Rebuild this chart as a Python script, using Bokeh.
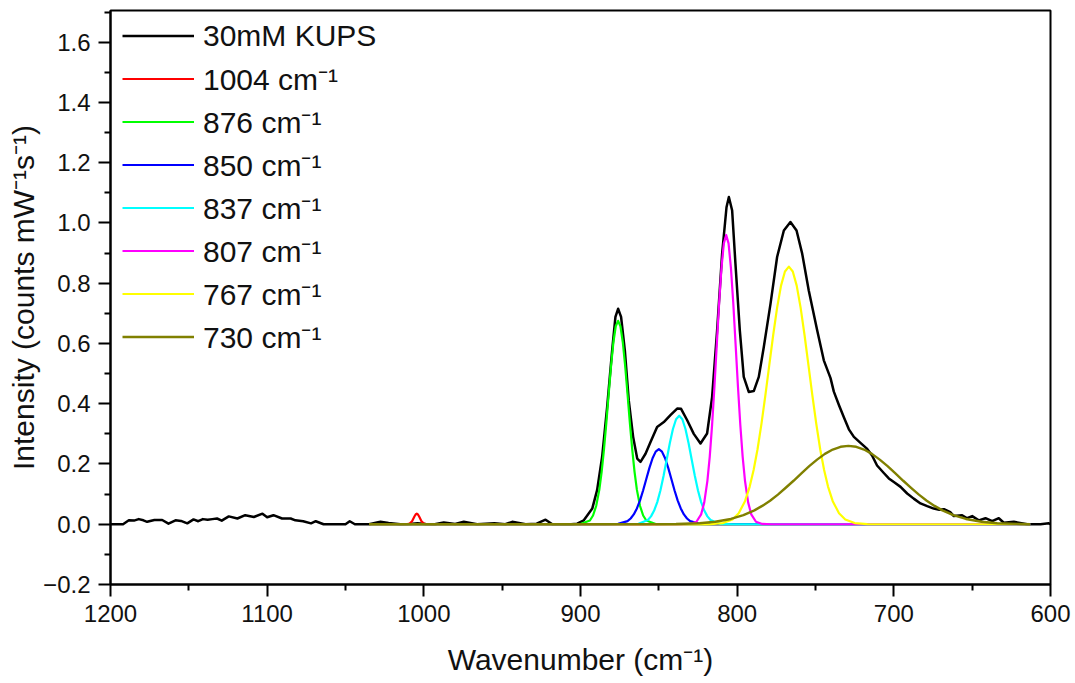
from bokeh.plotting import figure
from bokeh.models import Range1d, FixedTicker, CustomJSTickFormatter, Legend, LegendItem
from bokeh.embed import file_html
from bokeh.resources import INLINE

# ---------------- data ----------------
x_ticks = [1200, 1100, 1000, 900, 800, 700, 600]
x_minor = [1150, 1050, 950, 850, 750, 650]
y_ticks = [-0.2, 0.0, 0.2, 0.4, 0.6, 0.8, 1.0, 1.2, 1.4, 1.6]
y_minor = [-0.1, 0.1, 0.3, 0.5, 0.7, 0.9, 1.1, 1.3, 1.5, 1.7]

series_labels = ["30mM KUPS", "1004 cm\u207b\u00b9", "876 cm\u207b\u00b9", "850 cm\u207b\u00b9",
                 "837 cm\u207b\u00b9", "807 cm\u207b\u00b9", "767 cm\u207b\u00b9", "730 cm\u207b\u00b9"]

kups_wn = [1200, 1195, 1192, 1188.3, 1185, 1182, 1179, 1176.6, 1172, 1167, 1163, 1158.5, 1155, 1151,
           1147, 1144, 1141, 1138, 1135, 1132, 1129, 1124.5, 1119, 1114, 1108.5, 1103, 1100, 1096,
           1090.5, 1085, 1082, 1077, 1072, 1069, 1064, 1053, 1050, 1047.3, 1044, 1035, 1027.7, 1022.5,
           1015, 1009, 1004, 999, 993, 987.3, 980, 974.5, 966, 955, 948, 943.6, 935, 928, 922.3, 918,
           906, 902.1, 897.9, 892.5, 889.4, 886.2, 883, 879.8, 877.7, 876, 874.1, 871.7, 869.2, 866.4,
           863.8, 861.7, 858.5, 855.3, 851.1, 846.8, 842.6, 838.3, 835.8, 831.9, 827.7, 823.4, 819.2,
           816, 812.8, 809.6, 806.8, 805.3, 803.2, 801.1, 798.3, 795.8, 792.6, 789.4, 786.2, 783,
           778.7, 774.5, 770.2, 766, 762.1, 758.5, 754.3, 748.9, 744.7, 740.4, 738.3, 735, 731.9,
           728.7, 725.5, 721.3, 717, 713.9, 710.7, 706.4, 703.2, 700, 695.7, 691.5, 687.3, 683, 678.7,
           674.5, 671, 668, 664, 661.7, 656.4, 653.2, 650, 645.8, 641.5, 637.2, 633, 629.8, 623.4,
           614.9, 606.4, 601.1, 600]
kups_int = [0.0, 0.0, 0.0, 0.013, 0.012, 0.017, 0.013, 0.008, 0.014, 0.014, 0.002, 0.013, 0.011, 0.003,
            0.016, 0.010, 0.017, 0.015, 0.017, 0.019, 0.012, 0.026, 0.019, 0.030, 0.024, 0.035, 0.023, 0.030,
            0.019, 0.019, 0.013, 0.010, 0.003, 0.010, 0.0, 0.0, 0.0, 0.010, 0.0, 0.0, 0.008, 0.004,
            0.0, 0.001, 0.003, 0.001, 0.0, 0.006, 0.001, 0.008, 0.0, 0.003, 0.0, 0.008, 0.0, 0.002, 0.015, 0.0,
            0.0, 0.002, 0.013, 0.052, 0.113, 0.223, 0.389, 0.577, 0.688, 0.715, 0.688, 0.577, 0.411, 0.290,
            0.218, 0.207, 0.234, 0.273, 0.323, 0.339, 0.362, 0.384, 0.383, 0.345, 0.300, 0.268, 0.301,
            0.422, 0.643, 0.898, 1.052, 1.086, 1.041, 0.865, 0.643, 0.489, 0.439, 0.442, 0.489, 0.588,
            0.732, 0.887, 0.975, 1.003, 0.975, 0.898, 0.776, 0.643, 0.544, 0.485, 0.440, 0.395, 0.355,
            0.315, 0.290, 0.270, 0.250, 0.228, 0.195, 0.170, 0.152, 0.140, 0.124, 0.102, 0.085, 0.069, 0.060,
            0.052, 0.048, 0.050, 0.040, 0.027, 0.030, 0.020, 0.027, 0.013, 0.020, 0.010, 0.020, 0.005, 0.008,
            0.0, 0.0, 0.003, 0.0]

p1004_wn = [1035, 1010.5, 1009, 1007.5, 1006, 1005.25, 1004.5, 1003.75, 1003, 1001.5, 1000, 998.5, 613]
p1004_int = [0.0, 0.0002, 0.0022, 0.0102, 0.0257, 0.0324, 0.035, 0.0324, 0.0257, 0.0102, 0.0022, 0.0002, 0.0]

p876_wn = [1035, 906, 900, 894, 892, 890, 888, 886.5, 885, 883.5, 882, 880.5, 879, 877.5, 876,
           874.5, 873, 871.5, 870, 868.5, 867, 865.5, 864, 862, 860, 858, 852, 846, 613]
p876_int = [0.0, 0.0, 0.0006, 0.0125, 0.029, 0.0605, 0.114, 0.174, 0.249, 0.3375, 0.433, 0.526, 0.604,
            0.657, 0.675, 0.657, 0.604, 0.526, 0.433, 0.3375, 0.249, 0.174, 0.114, 0.0605, 0.029, 0.0125,
            0.0006, 0.0, 0.0]

p850_wn = [1035, 884, 876, 870, 868, 866, 864, 862, 860, 858, 856, 854, 852, 850, 848, 846, 844, 842,
           840, 838, 836, 834, 832, 830, 824, 816, 613]
p850_int = [0.0, 0.0, 0.0012, 0.0104, 0.0191, 0.0326, 0.0526, 0.0794, 0.1127, 0.150, 0.187, 0.219, 0.241,
            0.249, 0.241, 0.219, 0.187, 0.150, 0.1127, 0.0794, 0.0526, 0.0326, 0.0191, 0.0104, 0.0012, 0.0, 0.0]

p837_wn = [1035, 871, 863, 857, 855, 853, 851, 849, 847, 845, 843, 841, 839, 837, 835, 833, 831, 829,
           827, 825, 823, 821, 819, 817, 811, 803, 613]
p837_int = [0.0, 0.0, 0.0015, 0.014, 0.0261, 0.0454, 0.0734, 0.112, 0.160, 0.214, 0.269, 0.316, 0.3485,
            0.36, 0.3485, 0.316, 0.269, 0.214, 0.160, 0.112, 0.0734, 0.0454, 0.0261, 0.014, 0.0015, 0.0, 0.0]

p807_wn = [1035, 836, 830, 826, 823, 821, 819, 817.5, 816, 814.5, 813, 811.5, 810, 808.5, 807, 805.5,
           804, 802.5, 801, 799.5, 798, 796.5, 795, 793, 791, 788, 784, 778, 613]
p807_int = [0.0, 0.0, 0.0009, 0.0083, 0.0328, 0.0725, 0.144, 0.2246, 0.330, 0.457, 0.597, 0.735, 0.852,
            0.932, 0.96, 0.932, 0.852, 0.735, 0.597, 0.457, 0.330, 0.2246, 0.144, 0.0725, 0.0328, 0.0083,
            0.0009, 0.0, 0.0]

p767_wn = [1035, 825, 817, 809, 803, 799, 795, 792, 789.5, 787, 784.5, 782, 779.5, 777, 774.5, 772,
           769.5, 767, 764.5, 762, 759.5, 757, 754.5, 752, 749.5, 747, 744.5, 742, 739, 735, 731, 725,
           717, 709, 613]
p767_int = [0.0, 0.0, 0.0004, 0.0038, 0.0158, 0.0366, 0.0766, 0.125, 0.180, 0.249, 0.333, 0.4275, 0.528,
            0.628, 0.719, 0.792, 0.839, 0.855, 0.839, 0.792, 0.719, 0.628, 0.528, 0.4275, 0.333, 0.249,
            0.180, 0.125, 0.0766, 0.0366, 0.0158, 0.0038, 0.0004, 0.0, 0.0]

p730_wn = [1035, 860, 839, 824, 814, 804, 796, 789, 784, 779, 774, 769, 764, 759, 754, 749, 744, 739,
           734, 729, 724, 719, 714, 709, 704, 699, 694, 689, 684, 679, 674, 669, 662, 654, 644, 634, 619, 613]
p730_int = [0.0, 0.0, 0.0008, 0.0034, 0.0081, 0.0175, 0.0302, 0.046, 0.0608, 0.078, 0.0983, 0.121, 0.1443,
            0.169, 0.1927, 0.2145, 0.2335, 0.248, 0.257, 0.26, 0.257, 0.248, 0.2335, 0.2145, 0.1927, 0.169,
            0.1443, 0.121, 0.0983, 0.078, 0.0608, 0.046, 0.0302, 0.0175, 0.0081, 0.0034, 0.0008, 0.0]

# ---------------- figure ----------------
FONT = "Liberation Sans"

p = figure(width=1075, height=683, output_backend="svg", toolbar_location=None,
           x_range=Range1d(1200, 600), y_range=Range1d(-0.2, 1.705),
           min_border_left=110, min_border_right=25, min_border_top=10, min_border_bottom=99,
           background_fill_color="white", border_fill_color="white")

p.xgrid.visible = False
p.ygrid.visible = False
p.outline_line_color = "black"
p.outline_line_width = 2
p.outline_line_alpha = 1.0

p.xaxis.axis_label = "Wavenumber (cm\u207b\u00b9)"
p.yaxis.axis_label = "Intensity (counts mW\u207b\u00b9s\u207b\u00b9)"
p.xaxis.ticker = FixedTicker(ticks=x_ticks, minor_ticks=x_minor)
p.yaxis.ticker = FixedTicker(ticks=y_ticks, minor_ticks=y_minor)
p.yaxis.formatter = CustomJSTickFormatter(code="return tick.toFixed(1).replace('-', '\u2212');")

for ax in (p.xaxis[0], p.yaxis[0]):
    ax.axis_line_width = 2
    ax.axis_line_color = "black"
    ax.major_tick_line_width = 2
    ax.minor_tick_line_width = 2
    ax.major_tick_line_color = "black"
    ax.minor_tick_line_color = "black"
    ax.major_tick_out = 12
    ax.major_tick_in = 0
    ax.minor_tick_out = 6
    ax.minor_tick_in = 0
    ax.major_label_text_font = FONT
    ax.major_label_text_font_size = "24px"
    ax.major_label_text_color = "#111111"
    ax.major_label_standoff = 8
    ax.axis_label_text_font = FONT
    ax.axis_label_text_font_size = "30px"
    ax.axis_label_text_font_style = "normal"
    ax.axis_label_text_color = "#111111"

p.xaxis.axis_label_standoff = 18
p.yaxis.axis_label_standoff = 0

series = [
    (kups_wn, kups_int, "black", 2.5),
    (p1004_wn, p1004_int, "#ff0000", 2.2),
    (p876_wn, p876_int, "#00ff00", 2.2),
    (p850_wn, p850_int, "#0000ff", 2.2),
    (p837_wn, p837_int, "#00ffff", 2.2),
    (p807_wn, p807_int, "#ff00ff", 2.2),
    (p767_wn, p767_int, "#ffff00", 2.2),
    (p730_wn, p730_int, "#808000", 2.4),
]

items = []
for (xs, ys, col, lw), lab in zip(series, series_labels):
    r = p.line(xs, ys, line_color=col, line_width=lw, line_join="round")
    items.append(LegendItem(label=lab, renderers=[r]))

legend = Legend(items=items, location=(12, 226), padding=0, margin=0, spacing=0,
                glyph_width=72, glyph_height=43, label_height=43, label_standoff=9,
                label_text_font=FONT, label_text_font_size="30px", label_text_color="#111111",
                border_line_color=None, background_fill_alpha=0)
p.add_layout(legend)

open("out.html", "w").write(file_html(p, INLINE))
